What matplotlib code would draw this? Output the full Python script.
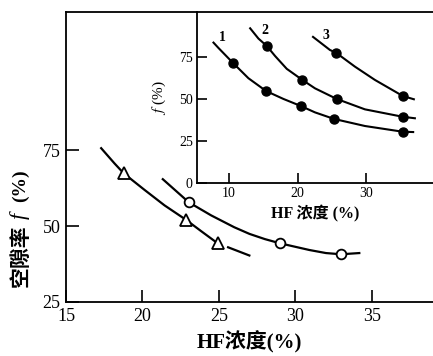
import numpy as np
import matplotlib
matplotlib.use('Agg')
import matplotlib.pyplot as plt

plt.rcParams['font.family'] = ['Liberation Serif', 'Noto Sans CJK SC']
plt.rcParams['mathtext.fontset'] = 'stix'

# main chart: measured points
tri_x = [18.78, 22.86, 24.92]
tri_y = [67.3, 52.0, 44.3]
circ_x = [23.03, 29.0, 32.99]
circ_y = [57.8, 44.3, 40.7]
# main chart: drawn curves (NaN = gap in line)
tri_curve_x = [17.3, 18.17, 18.78, 20.13, 21.44, 22.86, 23.84, 24.92, np.nan, 25.6, 26.99]
tri_curve_y = [75.6, 70.6, 67.3, 61.9, 56.8, 52.0, 48.3, 44.3, np.nan, 43.0, 40.3]
circ_curve_x = [21.33, 23.03, 24.49, 26.0, 27.0, 28.0, 29.0, 30.92, 32.0, 32.99, 34.18]
circ_curve_y = [65.4, 57.8, 53.5, 49.6, 47.4, 45.7, 44.3, 42.1, 41.1, 40.7, 41.1]

# inset: measured points
ins1_x = [10.54, 15.4, 20.47, 25.33, 35.36]
ins1_y = [71.5, 54.7, 45.8, 38.1, 30.5]
ins2_x = [15.5, 20.7, 25.72, 35.36]
ins2_y = [81.5, 61.3, 50.0, 39.4]
ins3_x = [25.62, 35.36]
ins3_y = [77.5, 51.8]
# inset: drawn curves
ins1_curve_x = [7.71, 8.44, 10.54, 12.82, 15.4, 17.93, 20.47, 22.55, 25.33, 29.85, 35.36, 36.9]
ins1_curve_y = [83.5, 80.3, 71.5, 62.3, 54.7, 50.0, 45.8, 42.0, 38.1, 33.9, 30.5, 30.3]
ins2_curve_x = [13.07, 14.28, 15.5, 16.72, 18.42, 20.7, 22.55, 25.72, 29.85, 35.36, 37.15]
ins2_curve_y = [92.0, 85.9, 81.5, 75.5, 67.9, 61.3, 56.3, 50.0, 43.8, 39.4, 38.5]
ins3_curve_x = [22.26, 24.74, 25.62, 28.39, 31.31, 35.36, 37.0]
ins3_curve_y = [86.9, 79.1, 77.5, 69.2, 61.3, 51.8, 49.8]
curve_labels = ['1', '2', '3']
label_x = [9.05, 15.2, 24.1]
label_y = [86.6, 90.4, 87.5]

fig = plt.figure(figsize=(4.33, 3.56), dpi=100)
ax = fig.add_axes([66 / 433, 54 / 356, 367 / 433, 290 / 356])

ax.plot(tri_curve_x, tri_curve_y, color='black', lw=1.6, zorder=2)
ax.plot(circ_curve_x, circ_curve_y, color='black', lw=1.6, zorder=2)
ax.plot(tri_x, tri_y, ls='none', marker='^', ms=8, mfc='white', mec='black', mew=1.3, zorder=3)
ax.plot(circ_x, circ_y, ls='none', marker='o', ms=7, mfc='white', mec='black', mew=1.3, zorder=3)

ax.set_xlim(15, 39.0)
ax.set_ylim(25, 120.4)
ax.set_xticks([15, 20, 25, 30, 35])
ax.set_yticks([25, 50, 75])
ax.spines['right'].set_visible(False)
for s in ax.spines.values():
    s.set_linewidth(1.3)
ax.tick_params(direction='in', length=9, width=1.2, labelsize=13, pad=4)
ax.set_xlabel('HF浓度(%)', fontsize=15, fontweight='bold', labelpad=5)

# y label built from pieces so that f can be italic
fig.text(20 / 433, 1 - 256 / 356, '空隙率', rotation=90, ha='center', va='center',
         fontsize=15, fontweight='bold', family=['Noto Sans CJK SC'])
fig.text(20 / 433, 1 - 216 / 356, 'f', rotation=90, ha='center', va='center',
         fontsize=16, style='italic', family=['Liberation Serif'])
fig.text(20 / 433, 1 - 186 / 356, '(%)', rotation=90, ha='center', va='center',
         fontsize=14, fontweight='bold', family=['Liberation Serif'])

# inset
ins = fig.add_axes([197 / 433, 173 / 356, 236 / 433, 171 / 356])
ins.patch.set_alpha(0)
for cx, cy in [(ins1_curve_x, ins1_curve_y), (ins2_curve_x, ins2_curve_y), (ins3_curve_x, ins3_curve_y)]:
    ins.plot(cx, cy, color='black', lw=1.5, zorder=2)
for px, py in [(ins1_x, ins1_y), (ins2_x, ins2_y), (ins3_x, ins3_y)]:
    ins.plot(px, py, ls='none', marker='o', ms=6.5, color='black', zorder=3)
for t, lx, ly in zip(curve_labels, label_x, label_y):
    ins.text(lx, ly, t, fontsize=10, fontweight='bold', ha='center', va='center')

ins.set_xlim(5.3, 39.8)
ins.set_ylim(0, 101.7)
ins.set_xticks([10, 20, 30])
ins.set_yticks([0, 25, 50, 75])
ins.spines['right'].set_visible(False)
ins.spines['top'].set_visible(False)
for s in ins.spines.values():
    s.set_linewidth(1.3)
ins.tick_params(direction='in', length=7, width=1.2, labelsize=10, pad=3)
ins.set_xlabel('HF 浓度 (%)', fontsize=11.5, fontweight='bold', labelpad=4)
ins.set_ylabel('$f$ (%)', fontsize=11, labelpad=8)

fig.savefig('out.png', dpi=100)
